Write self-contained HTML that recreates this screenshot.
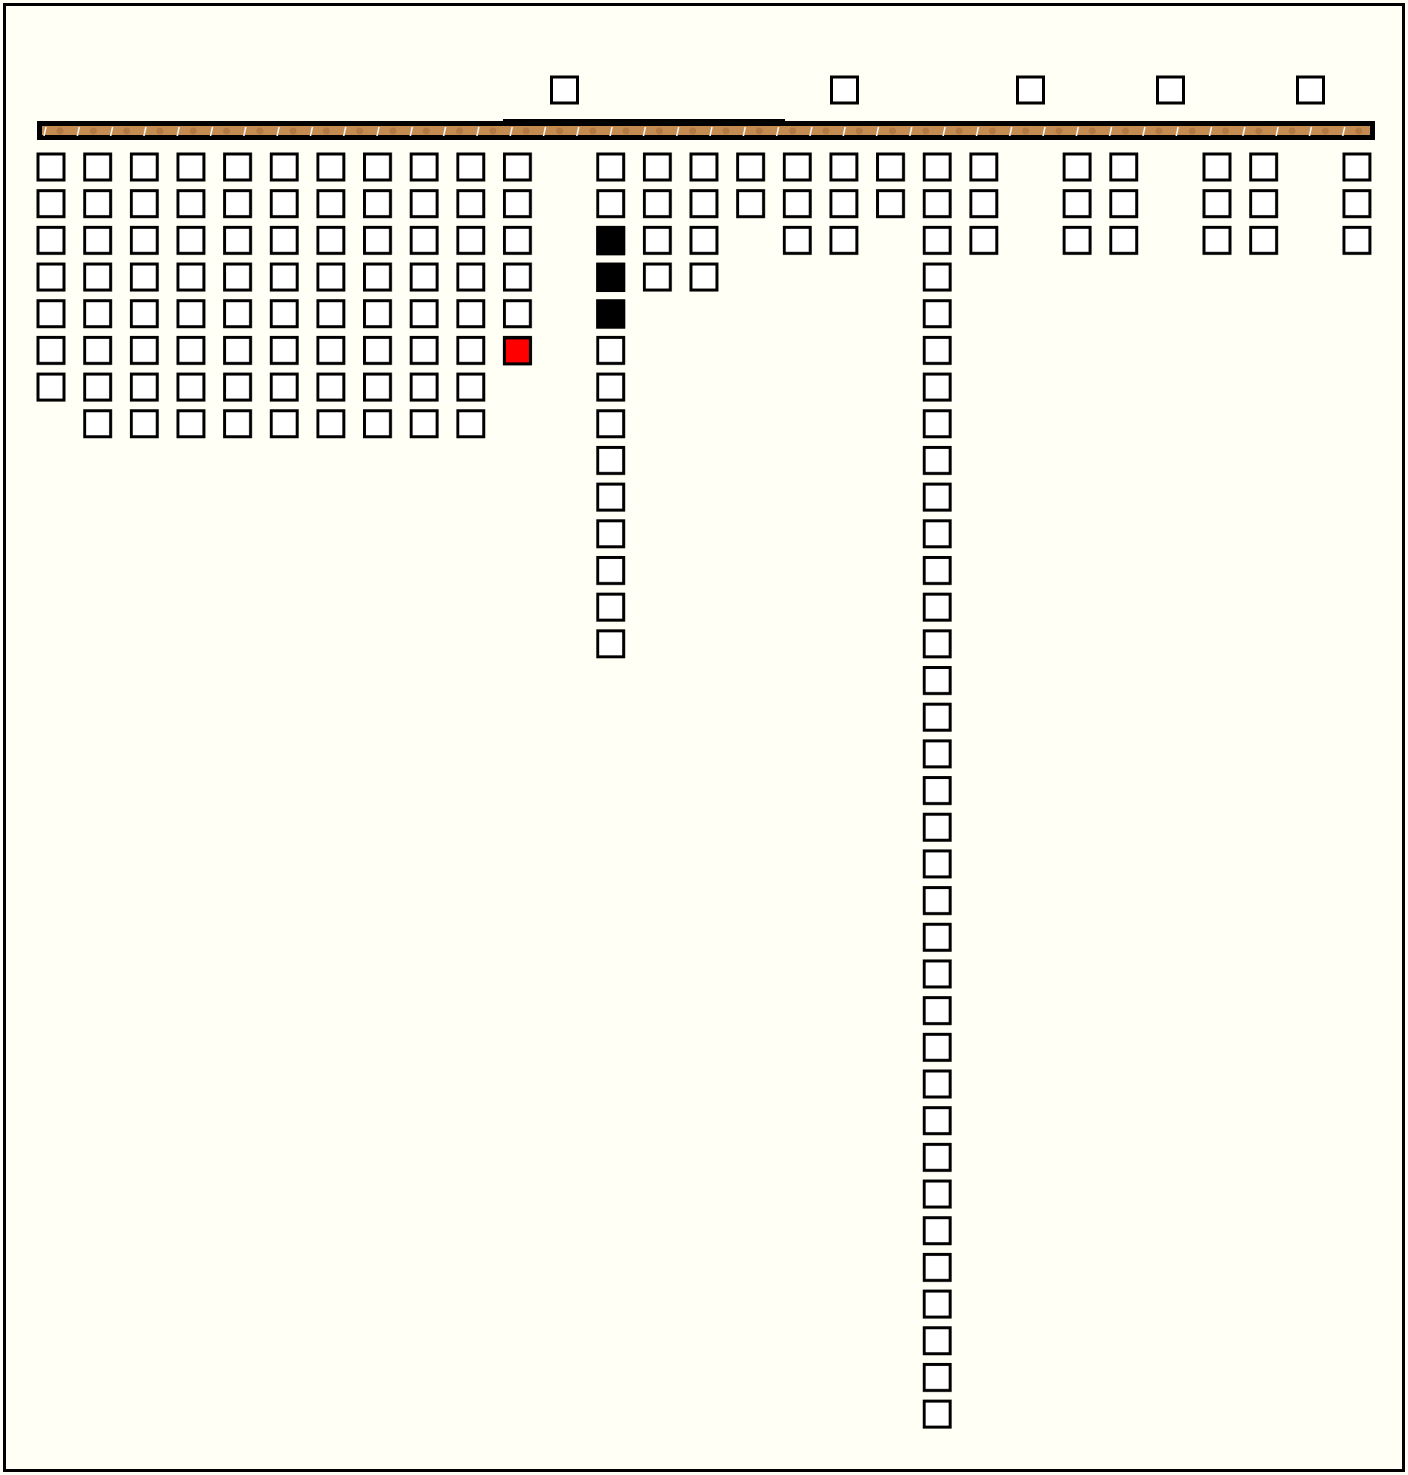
<!DOCTYPE html>
<html><head><style>html,body{margin:0;padding:0;background:#fffff5}svg{display:block}</style></head>
<body>
<svg width="1408" height="1475" viewBox="0 0 1408 1475" xmlns="http://www.w3.org/2000/svg">
<defs>
<pattern id="p" patternUnits="userSpaceOnUse" x="36.5" y="152.5" width="46.64" height="36.68">
<rect x="1.5" y="1.5" width="26" height="26" fill="#fff" stroke="#000" stroke-width="3"/>
</pattern>
<pattern id="t" patternUnits="userSpaceOnUse" x="40" y="125" width="33.3" height="12">
<path d="M4 11 L6 2" stroke="#fff" stroke-width="1.5"/>
<circle cx="20" cy="6" r="3.5" fill="#a86a3c" opacity="0.6"/>
</pattern>
</defs>
<rect x="0" y="0" width="1408" height="1475" fill="#fffff5"/>
<rect x="4.5" y="4.5" width="1399" height="1466" fill="none" stroke="#000" stroke-width="3"/>
<!-- bar -->
<rect x="503" y="119" width="282" height="8" fill="#000"/>
<rect x="39.5" y="123.5" width="1333" height="14" fill="#c48c50" stroke="#000" stroke-width="5"/>
<rect x="42" y="126" width="1328" height="10" fill="url(#t)"/>
<!-- top row -->
<g fill="#fff" stroke="#000" stroke-width="3">
<rect x="551.5" y="77" width="26" height="26"/>
<rect x="831.5" y="77" width="26" height="26"/>
<rect x="1017.5" y="77" width="26" height="26"/>
<rect x="1157.5" y="77" width="26" height="26"/>
<rect x="1297.5" y="77" width="26" height="26"/>
</g>
<!-- columns -->
<g fill="url(#p)">
<rect x="36.5" y="152.5" width="30" height="250"/>
<rect x="83.14" y="152.5" width="30" height="286"/>
<rect x="129.78" y="152.5" width="30" height="286"/>
<rect x="176.42" y="152.5" width="30" height="286"/>
<rect x="223.06" y="152.5" width="30" height="286"/>
<rect x="269.7" y="152.5" width="30" height="286"/>
<rect x="316.34" y="152.5" width="30" height="286"/>
<rect x="362.98" y="152.5" width="30" height="286"/>
<rect x="409.62" y="152.5" width="30" height="286"/>
<rect x="456.26" y="152.5" width="30" height="286"/>
<rect x="502.9" y="152.5" width="30" height="213"/>
<rect x="596.18" y="152.5" width="30" height="506"/>
<rect x="642.82" y="152.5" width="30" height="140"/>
<rect x="689.46" y="152.5" width="30" height="140"/>
<rect x="736.1" y="152.5" width="30" height="66"/>
<rect x="782.74" y="152.5" width="30" height="103"/>
<rect x="829.38" y="152.5" width="30" height="103"/>
<rect x="876.02" y="152.5" width="30" height="66"/>
<rect x="922.66" y="152.5" width="30" height="1277"/>
<rect x="969.3" y="152.5" width="30" height="103"/>
<rect x="1062.58" y="152.5" width="30" height="103"/>
<rect x="1109.22" y="152.5" width="30" height="103"/>
<rect x="1202.5" y="152.5" width="30" height="103"/>
<rect x="1249.14" y="152.5" width="30" height="103"/>
<rect x="1342.42" y="152.5" width="30" height="103"/>
</g>
<!-- filled boxes -->
<g stroke="#000" stroke-width="3">
<rect x="504.4" y="337.9" width="26" height="26" fill="#f00"/>
<rect x="597.68" y="227.86" width="26" height="26" fill="#000"/>
<rect x="597.68" y="264.54" width="26" height="26" fill="#000"/>
<rect x="597.68" y="301.22" width="26" height="26" fill="#000"/>
</g>
</svg>
</body></html>
